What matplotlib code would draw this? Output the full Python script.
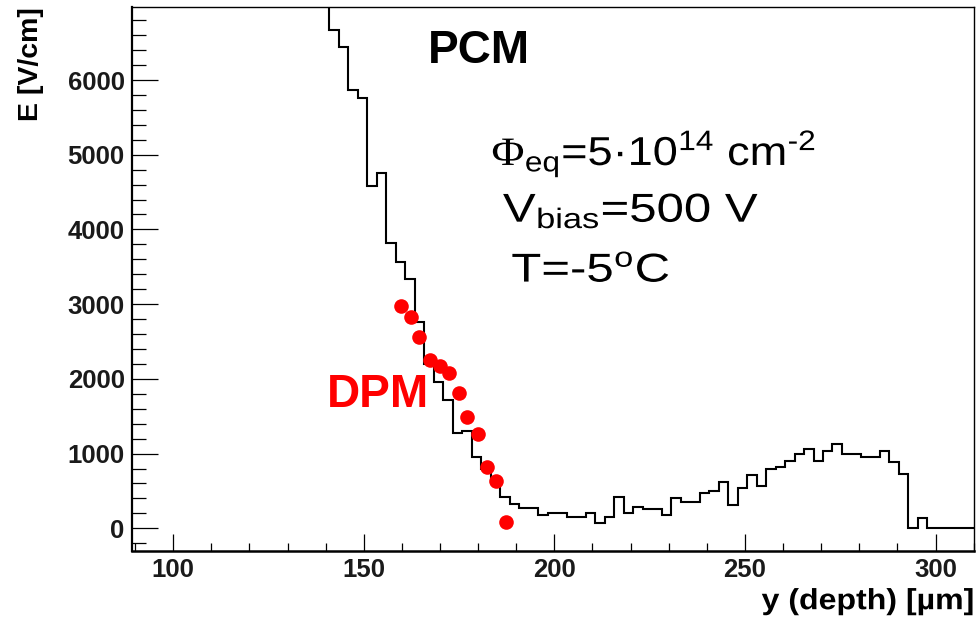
import matplotlib
matplotlib.use("Agg")
import matplotlib.pyplot as plt
import numpy as np
from matplotlib.patheffects import AbstractPathEffect
from matplotlib.ticker import MultipleLocator
from matplotlib.transforms import Affine2D

plt.rcParams["font.family"] = ["Liberation Sans", "DejaVu Sans"]
plt.rcParams["mathtext.fontset"] = "custom"
plt.rcParams["mathtext.rm"] = "Liberation Sans"
plt.rcParams["mathtext.it"] = "Liberation Sans"
plt.rcParams["mathtext.sf"] = "Liberation Serif"

# PCM field profile (histogram, 2.49 um bins starting at 138.5 um)
bin_start = 138.51
bin_width = 2.49
pcm_values = [
    7300, 6669, 6445, 5866, 5755, 4581, 4759, 3822, 3560, 3332,
    2765, 2200, 1962, 1720, 1280, 1300, 958, 800, 620, 423,
    321, 268, 268, 178, 209, 209, 155, 155, 209, 75,
    155, 423, 200, 289, 263, 263, 178, 401, 356, 356,
    477, 504, 620, 312, 535, 713, 566, 790, 825, 905,
    994, 1061, 901, 1035, 1124, 990, 990, 958, 958, 1035,
    891, 723, 8, 134, 8, 8, 8, 8, 8, 8,
]

# DPM points
dpm_depth = [159.7, 162.3, 164.5, 167.3, 169.9, 172.4, 175.0, 177.1, 180.0, 182.2, 184.8, 187.4]
dpm_field = [2975, 2824, 2556, 2252, 2172, 2074, 1807, 1494, 1262, 816, 633, 80]


class HStretch(AbstractPathEffect):
    """Widen text horizontally around a fixed display x."""

    def __init__(self, sx, x0):
        super().__init__()
        self.sx = sx
        self.x0 = x0

    def draw_path(self, renderer, gc, tpath, affine, rgbFace=None):
        t = affine + Affine2D().translate(-self.x0, 0).scale(self.sx, 1).translate(self.x0, 0)
        renderer.draw_path(gc, tpath, t, rgbFace)


edges = bin_start + bin_width * np.arange(len(pcm_values) + 1)

fig = plt.figure(figsize=(9.79, 6.25), dpi=100)
ax = fig.add_axes([0.1345, 0.1189, 0.8604, 0.8694])

ax.stairs(pcm_values, edges, color="black", lw=1.5, baseline=None)
ax.plot(dpm_depth, dpm_field, "o", color="#ff0000", markersize=10.5, markeredgewidth=0)

ax.set_xlim(89.1, 310.1)
ax.set_ylim(-300, 6973)

ax.xaxis.set_major_locator(MultipleLocator(50))
ax.xaxis.set_minor_locator(MultipleLocator(10))
ax.yaxis.set_major_locator(MultipleLocator(1000))
ax.yaxis.set_minor_locator(MultipleLocator(200))

ax.tick_params(axis="x", which="both", direction="in", top=False, width=0.9, pad=5,
               labelsize=18.5, labelcolor="#1a1a1a")
ax.tick_params(axis="x", which="major", length=12.5)
ax.tick_params(axis="x", which="minor", length=5.5)
ax.tick_params(axis="y", which="both", direction="in", right=False, width=0.9, pad=5,
               labelsize=18.5, labelcolor="#1a1a1a")
ax.tick_params(axis="y", which="major", length=18.5)
ax.tick_params(axis="y", which="minor", length=10)
for lab in ax.get_xticklabels() + ax.get_yticklabels():
    lab.set_fontweight("bold")

ax.spines["left"].set_linewidth(1.6)
ax.spines["bottom"].set_linewidth(1.8)
ax.spines["top"].set_linewidth(1.0)
ax.spines["right"].set_linewidth(1.0)

xl = ax.set_xlabel("y (depth) [\u00b5m]", loc="right", fontsize=21, fontweight="bold", labelpad=4)
ax.set_ylabel("E [V/cm]", loc="top", fontsize=20.5, fontweight="bold", labelpad=17)
right_px = ax.transAxes.transform((1, 0))[0]
xl.set_path_effects([HStretch(1.1, right_px)])

ax.text(166.8, 6223, "PCM", fontsize=33, fontweight="bold", ha="left", va="baseline")
ax.text(140.3, 1619, "DPM", fontsize=33, fontweight="bold", color="#ff0000", ha="left", va="baseline")

info_lines = [
    (183.5, 4862, r"$\mathsf{\Phi}_{\rm eq}$=5·10$^{14}$ cm$^{" + "\u2010" + "2}$", 1.12),
    (186.5, 4103, r"V$_{\rm bias}$=500 V", 1.22),
    (188.7, 3300, r"T=-5$^{\rm o}$C", 1.22),
]
for x, y, s, sx in info_lines:
    x0 = ax.transData.transform((x, y))[0]
    t = ax.text(x, y, s, fontsize=29, ha="left", va="baseline")
    t.set_path_effects([HStretch(sx, x0)])

fig.savefig("out.png", dpi=100)
